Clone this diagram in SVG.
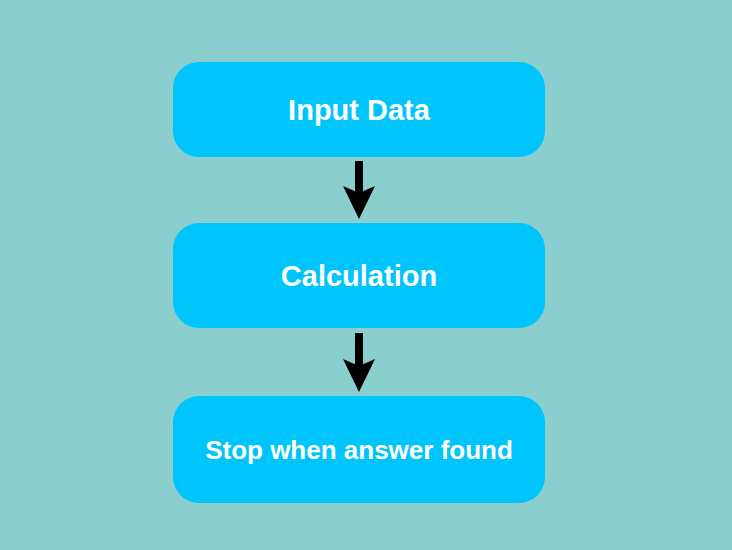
<svg xmlns="http://www.w3.org/2000/svg" width="732" height="550" viewBox="0 0 732 550">
<defs>
<style>
.box{fill:#00C5FD}
.lbl{fill:#FFFFFF;font-family:"Liberation Sans",Arial,sans-serif;font-weight:bold;text-anchor:middle}
.shaft{stroke:#000;stroke-width:8;fill:none}
.head{fill:#000}
</style>
</defs>
<rect width="732" height="550" fill="#8ACFCE"/>
<g id="connectors">
<line class="shaft" x1="359" y1="161" x2="359" y2="196"/>
<path class="head" d="M343,186 L359,193 L375,186 L359,219 Z"/>
<line class="shaft" x1="359" y1="333" x2="359" y2="368"/>
<path class="head" d="M343,359 L359,366 L375,359 L359,392 Z"/>
</g>
<g id="node-input">
<rect class="box" x="173" y="62" width="372" height="95" rx="26"/>
<text class="lbl" x="359" y="120" font-size="29">Input Data</text>
</g>
<g id="node-calc">
<rect class="box" x="173" y="223" width="372" height="105" rx="26"/>
<text class="lbl" x="359" y="286" font-size="29">Calculation</text>
</g>
<g id="node-stop">
<rect class="box" x="173" y="396" width="372" height="107" rx="26"/>
<text class="lbl" x="359" y="459" font-size="26">Stop when answer found</text>
</g>
</svg>
